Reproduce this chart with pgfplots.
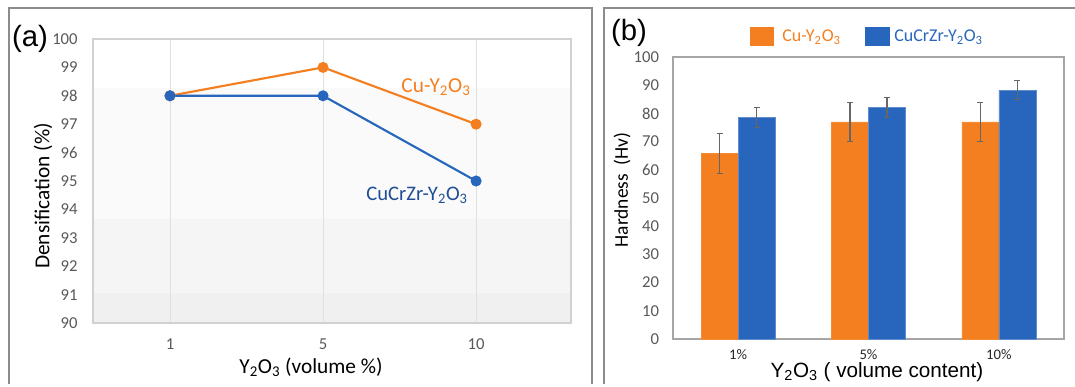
\documentclass[border=0pt]{standalone}
\usepackage{fontspec}
\setmainfont{Carlito}
\newfontfamily\arial{Liberation Sans}
\usepackage{pgfplots}
\pgfplotsset{compat=1.18}
\definecolor{cuorange}{HTML}{F47F20}
\definecolor{cublue}{HTML}{2866BE}
\definecolor{lblue}{HTML}{1F4E96}
\definecolor{tickgray}{HTML}{595959}
\newcommand\sub[1]{\textsubscript{#1}}
\begin{document}
\begin{tikzpicture}
\begin{scope}[x=0.75pt,y=0.75pt]
\path[use as bounding box] (0,0) rectangle (1075,384);
\clip (0,0) rectangle (1075,384);
% frames
\draw[color=black!45, line width=0.8pt] (9,376) rectangle (592,-10);
\draw[color=black!45, line width=0.8pt] (604,376) rectangle (1090,-10);
% background bands of panel (a)
\fill[color=white]       (93,345) rectangle (571,296);
\fill[color=black!2]     (93,296) rectangle (571,165);
\fill[color=black!4]     (93,165) rectangle (571,91);
\fill[color=black!6]     (93,91)  rectangle (571,61);
\end{scope}
% ---------------- panel (a)
\begin{axis}[at={(69.75pt,45.75pt)}, anchor=south west, scale only axis,
  width=358.5pt, height=213pt,
  xmin=-0.503, xmax=2.62, ymin=90, ymax=100,
  ytick={90,91,...,100}, xtick={0,1,2}, xticklabels={1,5,10},
  axis line style={draw=black!18, line width=0.8pt},
  major tick style={draw=none},
  xmajorgrids, grid style={draw=black!12, line width=0.6pt},
  /pgf/number format/assume math mode=true,
  ticklabel style={font=\fontsize{12.5}{14}\selectfont, text=tickgray},
  yticklabel style={xshift=-8pt},
  xticklabel style={yshift=-8pt},
  clip=false]
\addplot[color=cuorange, line width=1.6pt, mark=*, mark size=3.3pt,
  mark options={fill=cuorange, draw=cuorange}] coordinates {(0,98) (1,99) (2,97)};
\addplot[color=cublue, line width=1.6pt, mark=*, mark size=3.3pt,
  mark options={fill=cublue, draw=cublue}] coordinates {(0,98) (1,98) (2,95)};
\end{axis}
% ---------------- panel (b)
\begin{axis}[at={(504.75pt,33.75pt)}, anchor=south west, scale only axis,
  width=293.25pt, height=211.5pt,
  xmin=-0.5, xmax=2.5, ymin=0, ymax=100,
  ytick={0,10,...,100}, xtick={0,1,2}, xticklabels={1\%,5\%,10\%},
  axis line style={draw=black!35, line width=0.9pt},
  major tick style={draw=none},
  /pgf/number format/assume math mode=true,
  yticklabel style={font=\fontsize{12.5}{14}\selectfont, text=tickgray, xshift=-7pt},
  xticklabel style={font=\fontsize{11}{13}\selectfont, text=black!85},
  ybar, bar width=27.75pt, clip=false]
\addplot[fill=cuorange, draw=cuorange!90!white, bar shift=-13.875pt,
  error bars/.cd, y dir=both, y explicit,
  error bar style={color=black!60, line width=0.8pt},
  error mark options={rotate=90, mark size=2.2pt, line width=0.8pt, color=black!60}]
  coordinates {(0,65.8) +- (0,7) (1,77) +- (0,7) (2,77) +- (0,7)};
\addplot[fill=cublue, draw=cublue!75!white, bar shift=13.875pt,
  error bars/.cd, y dir=both, y explicit,
  error bar style={color=black!60, line width=0.8pt},
  error mark options={rotate=90, mark size=2.2pt, line width=0.8pt, color=black!60}]
  coordinates {(0,78.5) +- (0,3.5) (1,82) +- (0,3.5) (2,88.2) +- (0,3.4)};
\end{axis}
\begin{scope}[x=0.75pt,y=0.75pt]
\node[font=\arial\fontsize{22}{24}\selectfont] at (30,345) {(a)};
\node[rotate=90, font=\fontsize{16}{18}\selectfont] at (43,188) {Densification (\%)};
\node[font=\fontsize{16}{18}\selectfont] at (311,17) {Y\sub{2}O\sub{3} (volume \%)};
\node[font=\fontsize{16}{18}\selectfont, text=cuorange] at (436,297) {Cu-Y\sub{2}O\sub{3}};
\node[font=\fontsize{15.5}{17}\selectfont, text=lblue] at (417,189) {CuCrZr-Y\sub{2}O\sub{3}};
\node[font=\arial\fontsize{22}{24}\selectfont] at (629,351) {(b)};
\node[rotate=90, font=\fontsize{14.6}{17}\selectfont] at (622,194) {Hardness\ \ (Hv)};
\node[font=\arial\fontsize{15.5}{17}\selectfont] at (877,12) {Y\sub{2}O\sub{3} ( volume content)};
% legend
\fill[cuorange] (750,357) rectangle (774,338);
\node[anchor=west, font=\fontsize{13.5}{15}\selectfont, text=cuorange, inner sep=0pt] at (782,347) {Cu-Y\sub{2}O\sub{3}};
\fill[cublue] (865,357) rectangle (890,338);
\node[anchor=west, font=\fontsize{13.5}{15}\selectfont, text=cublue, inner sep=0pt] at (894,347) {CuCrZr-Y\sub{2}O\sub{3}};
\end{scope}
\end{tikzpicture}
\end{document}
